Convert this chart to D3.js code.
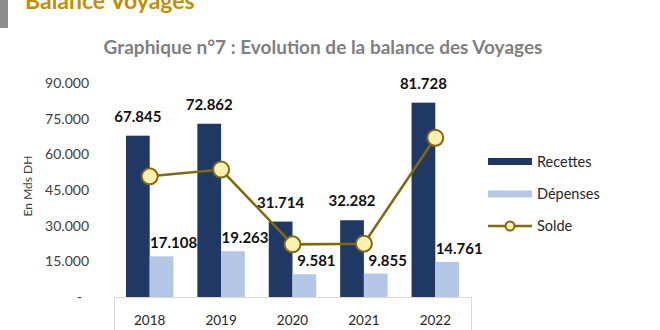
<!DOCTYPE html>
<html><head><meta charset="utf-8">
<script src="https://cdn.jsdelivr.net/npm/d3@7"></script>
<style>body{margin:0;background:#fff}svg{display:block}</style>
</head><body>
<svg id="c" width="660" height="330"></svg>
<script>
const years = ["2018","2019","2020","2021","2022"];
const recettes = [67845, 72862, 31714, 32282, 81728];
const depenses = [17108, 19263, 9581, 9855, 14761];
const solde = [50737, 53599, 22133, 22427, 66967];
const yTicks = [0, 15000, 30000, 45000, 60000, 75000, 90000];
const seriesNames = ["Recettes", "Dépenses", "Solde"];

const FONT = "Lato, 'Open Sans', sans-serif";
const cRec = "#203864", cDep = "#b4c7e7", cLine = "#7f6a0e", cFill = "#fff0b0";
const svg = d3.select("#c");
const fmt = v => v === 0 ? "-" : d3.format(",")(v).replace(/,/g, ".");

const pL = 114, pR = 471, pT = 83, pB = 297;
const x = d3.scaleBand().domain(years).range([pL, pR]).paddingInner(0.335).paddingOuter(0.1675);
const y = d3.scaleLinear().domain([0, 90000]).range([pB, pT]);
const bw = x.bandwidth() / 2;

// header
svg.append("rect").attr("x", 0).attr("y", 0).attr("width", 8).attr("height", 28).attr("fill", "#8c8c8c");
svg.append("text").attr("x", 25).attr("y", 9).attr("font-family", FONT).attr("font-weight", 700)
  .attr("font-size", 23).attr("fill", "#bf9000").text("Balance Voyages");
svg.append("text").attr("x", 323).attr("y", 54).attr("text-anchor", "middle").attr("font-family", FONT)
  .attr("font-weight", 700).attr("font-size", 19).attr("fill", "#7f7f7f")
  .text("Graphique n°7 : Evolution de la balance des Voyages");

// y axis
const yAxis = d3.axisLeft(y).tickValues(yTicks).tickFormat(fmt).tickSize(0).tickPadding(0);
const ga = svg.append("g").attr("transform", "translate(89,0)").call(yAxis);
ga.select(".domain").remove();
ga.selectAll("text").attr("font-family", FONT).attr("font-size", 14).attr("fill", "#404040")
  .attr("dx", d => d === 0 ? -7 : 0);
svg.append("text").attr("transform", "translate(32,186) rotate(-90)").attr("text-anchor", "middle")
  .attr("font-family", FONT).attr("font-size", 12).attr("fill", "#404040").text("En Mds DH");

// category frame
svg.append("rect").attr("x", pL + 0.5).attr("y", pB + 0.5).attr("width", pR - pL).attr("height", 40)
  .attr("fill", "none").attr("stroke", "#d9d9d9");
const xAxis = d3.axisBottom(x).tickSize(0).tickPadding(0);
const gx = svg.append("g").attr("transform", `translate(0,${pB})`).call(xAxis);
gx.select(".domain").remove();
gx.selectAll("text").attr("font-family", FONT).attr("font-size", 13.5).attr("fill", "#262626").attr("dy", 0).attr("y", 28);

// bars
const g = svg.append("g");
g.selectAll(".rec").data(years).join("rect").attr("x", d => x(d)).attr("y", (d, i) => y(recettes[i]))
  .attr("width", bw).attr("height", (d, i) => pB - y(recettes[i])).attr("fill", cRec);
g.selectAll(".dep").data(years).join("rect").attr("x", d => x(d) + bw).attr("y", (d, i) => y(depenses[i]))
  .attr("width", bw).attr("height", (d, i) => pB - y(depenses[i])).attr("fill", cDep);

// labels
g.selectAll(".lr").data(years).join("text").attr("x", d => x(d) + bw / 2).attr("y", (d, i) => y(recettes[i]) - 14)
  .attr("text-anchor", "middle").attr("font-family", FONT).attr("font-weight", 700).attr("font-size", 15)
  .attr("fill", "#111").text((d, i) => fmt(recettes[i]));
g.selectAll(".ld").data(years).join("text").attr("x", d => x(d) + bw * 1.5 + 12).attr("y", (d, i) => y(depenses[i]) - 8)
  .attr("text-anchor", "middle").attr("font-family", FONT).attr("font-weight", 700).attr("font-size", 15)
  .attr("fill", "#111").text((d, i) => fmt(depenses[i]));

// line
const line = d3.line().x((d, i) => x(years[i]) + bw).y(d => y(d));
g.append("path").datum(solde).attr("d", line).attr("fill", "none").attr("stroke", cLine).attr("stroke-width", 2.5);
g.selectAll(".m").data(solde).join("circle").attr("cx", (d, i) => x(years[i]) + bw).attr("cy", d => y(d))
  .attr("r", 8).attr("fill", cFill).attr("stroke", cLine).attr("stroke-width", 2);

// legend
const lg = svg.append("g").attr("font-family", FONT).attr("font-size", 14.5).attr("fill", "#262626");
const ly = [161.5, 194, 226];
lg.append("rect").attr("x", 488).attr("y", ly[0] - 3.5).attr("width", 44).attr("height", 7).attr("fill", cRec);
lg.append("rect").attr("x", 488).attr("y", ly[1] - 3.5).attr("width", 44).attr("height", 7).attr("fill", cDep);
lg.append("line").attr("x1", 488).attr("x2", 532).attr("y1", ly[2]).attr("y2", ly[2]).attr("stroke", cLine).attr("stroke-width", 2.5);
lg.append("circle").attr("cx", 510).attr("cy", ly[2]).attr("r", 4.5).attr("fill", cFill).attr("stroke", cLine).attr("stroke-width", 2);
seriesNames.forEach((s, i) => {
  lg.append("text").attr("x", 537).attr("y", ly[i] + 5).text(s);
});
</script>
</body></html>
